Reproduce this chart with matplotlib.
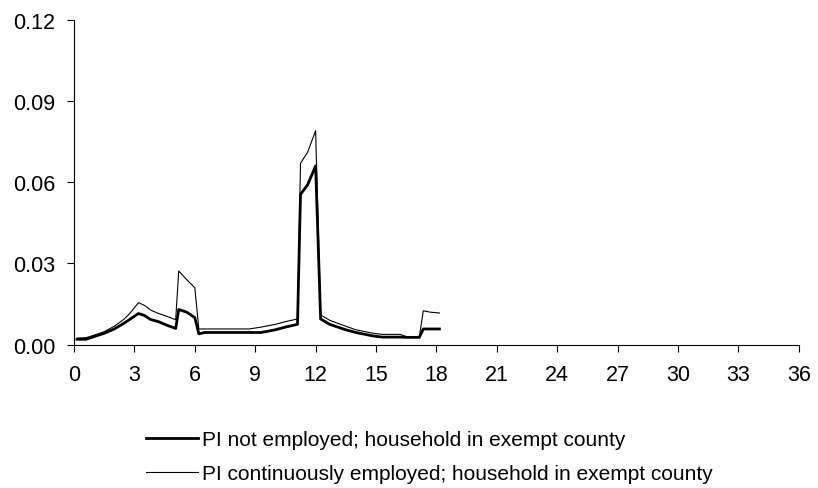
import matplotlib
matplotlib.use("Agg")
import matplotlib.pyplot as plt

plt.rcParams["font.family"] = ["Liberation Sans", "DejaVu Sans"]

# months since start of spell
months = [0.15, 0.6, 1.0, 1.5, 2.0, 2.5, 2.8, 3.2, 3.5, 3.8, 4.2, 4.6, 5.05,
          5.2, 5.6, 6.0, 6.2, 6.5, 8.7, 9.3, 10.0, 10.5, 11.1, 11.25, 11.6,
          12.0, 12.25, 12.7, 13.5, 14.0, 14.8, 15.3, 16.2, 16.5, 17.15,
          17.35, 17.7, 18.15]

not_employed = [0.0020, 0.0020, 0.0030, 0.0042, 0.0058, 0.0080, 0.0095,
                0.0115, 0.0108, 0.0093, 0.0085, 0.0072, 0.0060, 0.0130,
                0.0120, 0.0100, 0.0040, 0.0045, 0.0045, 0.0045, 0.0055,
                0.0065, 0.0075, 0.0555, 0.0590, 0.0660, 0.0095, 0.0075,
                0.0055, 0.0045, 0.0033, 0.0028, 0.0028, 0.0027, 0.0027,
                0.0058, 0.0058, 0.0058]

cont_employed = [0.0024, 0.0026, 0.0035, 0.0048, 0.0068, 0.0095, 0.0118,
                 0.0155, 0.0145, 0.0128, 0.0115, 0.0105, 0.0092, 0.0272,
                 0.0240, 0.0210, 0.0058, 0.0058, 0.0058, 0.0065, 0.0075,
                 0.0085, 0.0095, 0.0670, 0.0710, 0.0790, 0.0110, 0.0090,
                 0.0068, 0.0055, 0.0043, 0.0038, 0.0038, 0.0030, 0.0028,
                 0.0125, 0.0120, 0.0117]

x_ticks = list(range(0, 37, 3))
y_ticks = [0.00, 0.03, 0.06, 0.09, 0.12]

fig = plt.figure(figsize=(8.18, 4.89), dpi=100)
ax = fig.add_axes([0.0905, 0.2931, 0.886, 0.6646])

ax.plot(months, not_employed, color="black", lw=2.0,
        label="PI not employed; household in exempt county")
ax.plot(months, cont_employed, color="black", lw=0.8,
        label="PI continuously employed; household in exempt county")

ax.set_xlim(0, 36)
ax.set_ylim(0, 0.12)
ax.set_xticks(x_ticks)
ax.set_yticks(y_ticks)
ax.set_yticklabels([f"{v:.2f}" for v in y_ticks])
ax.tick_params(labelsize=15.5, length=5, width=0.8)
ax.tick_params(axis="x", pad=9)
ax.tick_params(axis="y", pad=8.5)
for side in ("top", "right"):
    ax.spines[side].set_visible(False)
for side in ("left", "bottom"):
    ax.spines[side].set_linewidth(0.8)

fig.legend(loc="upper left", bbox_to_anchor=(0.1785, 0.118), frameon=False,
           fontsize=15, handlelength=2.5, handletextpad=0.2,
           labelspacing=0.72, borderaxespad=0, borderpad=0)

fig.savefig("out.png", dpi=100)
